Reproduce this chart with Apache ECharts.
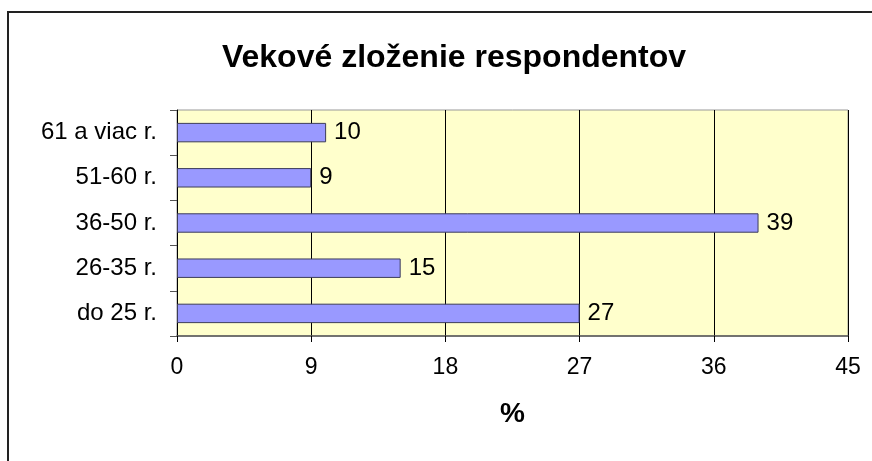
<!DOCTYPE html>
<html>
<head>
<meta charset="utf-8">
<script src="https://cdn.jsdelivr.net/npm/echarts@6/dist/echarts.min.js"></script>
<style>
  html, body { margin: 0; padding: 0; background: #fff; }
  #main { width: 872px; height: 461px; }
</style>
</head>
<body>
<div id="main"></div>
<script>
// kategorie (zdola nahor) a hodnoty v %
var categories = ["do 25 r.", "26-35 r.", "36-50 r.", "51-60 r.", "61 a viac r."];
var values = [27, 15, 39, 9, 10];
var xTicks = [0, 9, 18, 27, 36, 45];

var font = "Liberation Sans, Arial, sans-serif";
var mychart = echarts.init(document.getElementById("main"));
var option = {
  backgroundColor: "#fff",
  animation: false,
  title: {
    text: "Vekové zloženie respondentov",
    left: 449,
    top: 37,
    textAlign: "center",
    textStyle: { fontFamily: font, fontSize: 32, fontWeight: "bold", color: "#000" }
  },
  // ramik okolo grafu
  graphic: [
    {
      type: "rect",
      shape: { x: 8, y: 12, width: 1000, height: 1000 },
      style: { fill: "none", stroke: "#222", lineWidth: 2 },
      silent: true
    }
  ],
  grid: {
    left: 177,
    right: 24,
    top: 110,
    bottom: 125,
    show: true,
    backgroundColor: "#FFFFCC",
    borderColor: "#999",
    borderWidth: 1
  },
  xAxis: {
    type: "value",
    min: xTicks[0],
    max: xTicks[xTicks.length - 1],
    interval: xTicks[1] - xTicks[0],
    name: "%",
    nameLocation: "middle",
    nameGap: 64,
    nameTextStyle: { fontFamily: font, fontSize: 28, fontWeight: "bold", color: "#000" },
    axisLine: { show: true, lineStyle: { color: "#555", width: 1.5 } },
    axisTick: { show: true, length: 6, lineStyle: { color: "#000" } },
    axisLabel: { margin: 20, fontFamily: font, fontSize: 23, color: "#000" },
    splitLine: { show: true, lineStyle: { color: "#000", width: 1 } }
  },
  yAxis: {
    type: "category",
    data: categories,
    axisLine: { show: true, lineStyle: { color: "#000", width: 1 } },
    axisTick: { show: true, length: 7, lineStyle: { color: "#555" } },
    axisLabel: { margin: 20, fontFamily: font, fontSize: 24, color: "#000" },
    splitLine: { show: false }
  },
  series: [
    {
      type: "bar",
      data: values,
      barWidth: "43%",
      itemStyle: { color: "#9999FF", borderColor: "#3c3c5a", borderWidth: 1 },
      label: {
        show: true,
        position: "right",
        distance: 8,
        fontFamily: font,
        fontSize: 24,
        color: "#000"
      }
    }
  ]
};
mychart.setOption(option);
</script>
</body>
</html>
